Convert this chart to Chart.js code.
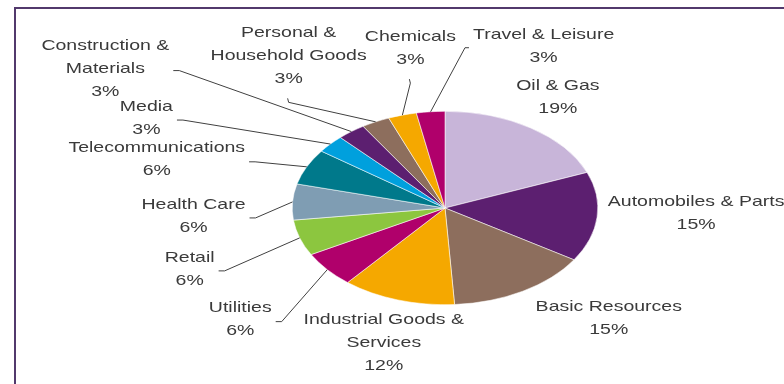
<!DOCTYPE html>
<html lang="en">
<head>
<meta charset="UTF-8">
<title>Sector breakdown</title>
<script src="https://cdn.jsdelivr.net/npm/chart.js"></script>
<style>
  body { margin: 0; background: #fff; }
  #wrap { width: 784px; height: 384px; }
</style>
</head>
<body>
<div id="wrap"><canvas id="sectorChart" width="784" height="384"></canvas></div>
<script>
// sector weights, clockwise from twelve o'clock
const sectors = ['Oil & Gas', 'Automobiles & Parts', 'Basic Resources', 'Industrial Goods & Services',
  'Utilities', 'Retail', 'Health Care', 'Telecommunications', 'Media', 'Construction & Materials',
  'Personal & Household Goods', 'Chemicals', 'Travel & Leisure'];
const shares = [19, 15, 15, 12, 6, 6, 6, 6, 3, 3, 3, 3, 3];
const sliceColors = ['#c8b5d9', '#5c1f70', '#8d6e5d', '#f5a800', '#b0006b', '#8cc63f', '#7f9db3',
  '#00798b', '#00a0dd', '#5c1f70', '#8d6e5d', '#f5a800', '#b0006b'];

// how each label's name wraps
const labelLines = [['Oil & Gas'], ['Automobiles & Parts'], ['Basic Resources'], ['Industrial Goods &', 'Services'],
  ['Utilities'], ['Retail'], ['Health Care'], ['Telecommunications'], ['Media'], ['Construction &', 'Materials'],
  ['Personal &', 'Household Goods'], ['Chemicals'], ['Travel & Leisure']];

// label centre relative to the slice's outer edge, and the side its leader leaves from
const labelPlacement = [
  { dx: 27, dy: -31, leader: null },
  { dx: 99, dy: -4, leader: null },
  { dx: 86, dy: 27, leader: null },
  { dx: -14, dy: 43, leader: null },
  { dx: -87, dy: 50, leader: 'right' },
  { dx: -110, dy: 31, leader: 'right' },
  { dx: -99, dy: 14, leader: 'right' },
  { dx: -150, dy: -7, leader: 'right' },
  { dx: -184, dy: -26, leader: 'right' },
  { dx: -246, dy: -63, leader: 'right' },
  { dx: -87, dy: -66, leader: 'bottom' },
  { dx: 8, dy: -67, leader: 'bottom' },
  { dx: 113, dy: -65, leader: 'left' }
];

const PIE_STRETCH = 1.58;   // the pie is drawn as a wide ellipse
const TEXT_STRETCH = 1.3;
const LINE_H = 23;
const FONT = '15px "Liberation Sans", Arial, sans-serif';

function edgePoint(arc) {
  const mid = (arc.startAngle + arc.endAngle) / 2;
  return {
    x: arc.x + Math.cos(mid) * arc.outerRadius * PIE_STRETCH,
    y: arc.y + Math.sin(mid) * arc.outerRadius
  };
}

const frameBox = {
  id: 'frameBox',
  beforeDraw(chart) {
    const ctx = chart.ctx;
    ctx.save();
    ctx.strokeStyle = '#52396c';
    ctx.lineWidth = 2;
    ctx.strokeRect(15, 8, 820, 420);
    ctx.restore();
  }
};

const stretchPie = {
  id: 'stretchPie',
  beforeDatasetsDraw(chart) {
    const arc = chart.getDatasetMeta(0).data[0];
    const ctx = chart.ctx;
    ctx.save();
    ctx.translate(arc.x, 0);
    ctx.scale(PIE_STRETCH, 1);
    ctx.translate(-arc.x, 0);
  },
  afterDatasetsDraw(chart) {
    chart.ctx.restore();
  }
};

const sliceLabels = {
  id: 'sliceLabels',
  afterDraw(chart) {
    const ctx = chart.ctx;
    const arcs = chart.getDatasetMeta(0).data;
    ctx.save();
    ctx.font = FONT;
    ctx.fillStyle = '#3a3a3a';
    ctx.strokeStyle = '#404040';
    ctx.lineWidth = 1;
    ctx.textAlign = 'center';
    ctx.textBaseline = 'middle';
    arcs.forEach((arc, i) => {
      const e = edgePoint(arc);
      const p = labelPlacement[i];
      const cx = e.x + p.dx;
      const cy = e.y + p.dy;
      const lines = labelLines[i].concat(shares[i] + '%');
      const h = lines.length * LINE_H;
      const top = cy - h / 2;
      let w = 0;
      lines.forEach((t, k) => {
        w = Math.max(w, ctx.measureText(t).width * TEXT_STRETCH);
        ctx.save();
        ctx.translate(cx, top + LINE_H * (k + 0.5));
        ctx.scale(TEXT_STRETCH, 1);
        ctx.fillText(t, 0, 0);
        ctx.restore();
      });
      if (!p.leader) return;
      let s, shoulder;
      if (p.leader === 'right') {
        s = { x: cx + w / 2 + 4, y: cy + 2 };
        shoulder = { x: s.x + 6, y: s.y };
      } else if (p.leader === 'left') {
        s = { x: cx - w / 2 - 4, y: cy + 1 };
        shoulder = { x: s.x - 4, y: s.y };
      } else {
        s = { x: cx - 1, y: top + h + 8 };
        shoulder = { x: cx, y: s.y + 4 };
      }
      ctx.beginPath();
      ctx.moveTo(s.x, s.y);
      ctx.lineTo(shoulder.x, shoulder.y);
      ctx.lineTo(e.x, e.y);
      ctx.stroke();
    });
    ctx.restore();
  }
};

new Chart(document.getElementById('sectorChart'), {
  type: 'pie',
  data: {
    labels: sectors,
    datasets: [{
      data: shares,
      backgroundColor: sliceColors,
      borderColor: 'rgba(255,255,255,0.7)',
      borderWidth: 0.6,
      hoverOffset: 0,
      clip: false
    }]
  },
  options: {
    responsive: false,
    animation: false,
    events: [],
    layout: { padding: { left: 348, right: 242, top: 111, bottom: 79 } },
    plugins: {
      legend: { display: false },
      tooltip: { enabled: false }
    }
  },
  plugins: [frameBox, stretchPie, sliceLabels]
});
</script>
</body>
</html>
